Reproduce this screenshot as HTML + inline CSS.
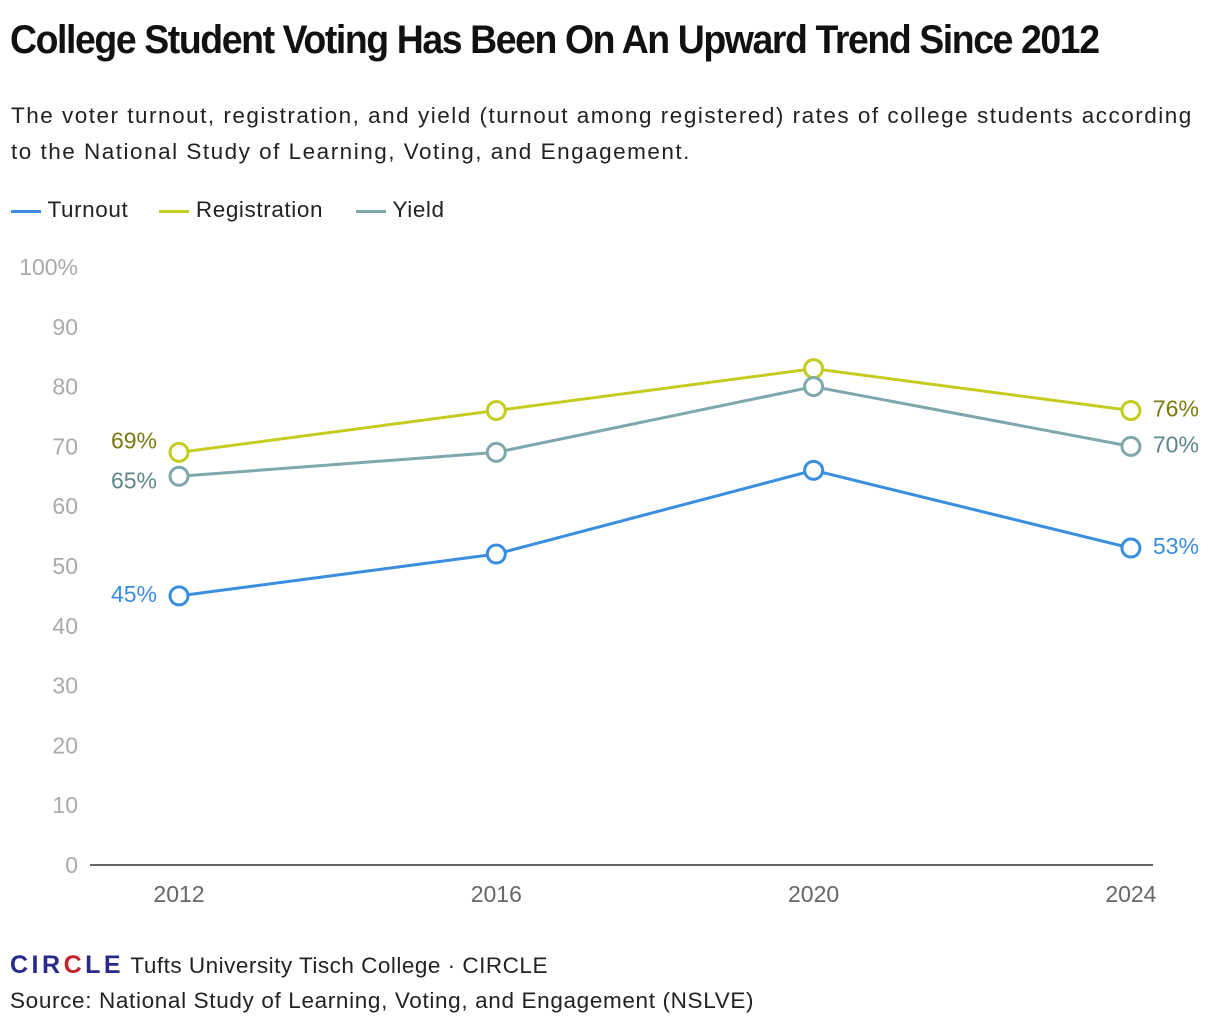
<!DOCTYPE html>
<html><head><meta charset="utf-8"><style>
body{margin:0;width:1220px;height:1034px;background:#fff;font-family:"Liberation Sans",sans-serif;overflow:hidden;position:relative}
.t{position:absolute;white-space:nowrap}
</style></head><body>
<div class="t" style="left:10px;top:18px;font-size:40px;font-weight:bold;letter-spacing:-1.5px;transform:scaleX(0.935);transform-origin:left;color:#111">College Student Voting Has Been On An Upward Trend Since 2012</div>
<div class="t" style="left:11px;top:98px;font-size:22.5px;line-height:36px;letter-spacing:1.5px;color:#222;white-space:normal;width:1209px">The voter turnout, registration, and yield (turnout among registered) rates of college students according to the National Study of Learning, Voting, and Engagement.</div>
<div class="t" style="left:11px;top:197px;font-size:22.5px;letter-spacing:0.6px;color:#222">
<span style="position:absolute;left:0"><span style="display:inline-block;width:30px;height:3px;background:#3a8ee0;vertical-align:middle"></span> Turnout</span>
<span style="position:absolute;left:148px"><span style="display:inline-block;width:30px;height:3px;background:#c4cc1f;vertical-align:middle"></span> Registration</span>
<span style="position:absolute;left:345px"><span style="display:inline-block;width:30px;height:3px;background:#7ea8ac;vertical-align:middle"></span> Yield</span>
</div>
<svg id="c" width="1220" height="1034" style="position:absolute;left:0;top:0"></svg>
<div class="t" style="left:10px;top:951px;font-size:22.5px;letter-spacing:0.5px;color:#222"><span style="color:#2b2a8a;font-weight:bold;font-size:25px;letter-spacing:3.5px">CIR<span style="color:#c8202e">C</span>LE</span> Tufts University Tisch College · CIRCLE</div>
<div class="t" style="left:10px;top:988px;font-size:22.5px;letter-spacing:0.65px;color:#222">Source: National Study of Learning, Voting, and Engagement (NSLVE)</div>
<script>
const years=["2012","2016","2020","2024"];
const turnout=[45,52,66,53];
const registration=[69,76,83,76];
const yieldVals=[65,69,80,70];
const yTicks=[0,10,20,30,40,50,60,70,80,90,100];
const NS="http://www.w3.org/2000/svg",svg=document.getElementById("c");
const x=i=>179+i*317.3, y=v=>865-v*5.98;
function mk(t,a,txt){const e=document.createElementNS(NS,t);for(const k in a)e.setAttribute(k,a[k]);if(txt!=null)e.textContent=txt;svg.appendChild(e);return e;}
yTicks.forEach(v=>{const e=mk("text",{x:78,y:y(v)+8,"text-anchor":"end","font-size":23,fill:"#aaa","font-family":"Liberation Sans"},v===100?"100%":v);

});
const ax=mk("line",{x1:90,x2:1153,y1:865,y2:865,stroke:"#333","stroke-width":1.5});


years.forEach((yr,i)=>{const e=mk("text",{x:x(i),y:902,"text-anchor":"middle","font-size":23,fill:"#666","font-family":"Liberation Sans"},yr);

});
const series=[["registration",registration,"#c4cc1f","#7a7a10",-12],["yield",yieldVals,"#7ea8ac","#5e8588",4],["turnout",turnout,"#3a8ee0","#3a8ee0",-2]];
series.forEach(([n,d,c,lc,off])=>{
const p=mk("polyline",{points:d.map((v,i)=>x(i)+","+y(v)).join(" "),fill:"none",stroke:c,"stroke-width":3});


d.forEach((v,i)=>{const ci=mk("circle",{cx:x(i),cy:y(v),r:9,fill:"#fff",stroke:c,"stroke-width":3});

});
const l=mk("text",{x:x(0)-22,y:y(d[0])+8+off,"text-anchor":"end","font-size":23,fill:lc,"font-family":"Liberation Sans"},d[0]+"%");


const r=mk("text",{x:x(3)+22,y:y(d[3])+6,"font-size":23,fill:lc,"font-family":"Liberation Sans"},d[3]+"%");


});
</script>
</body></html>
